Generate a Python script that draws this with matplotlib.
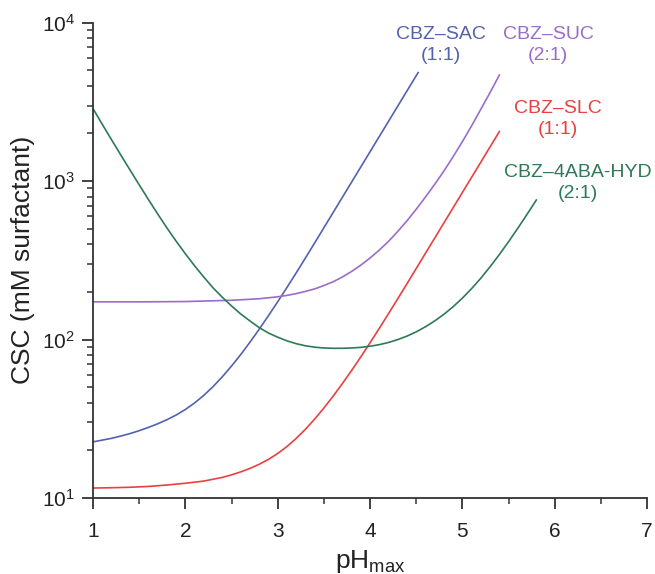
import matplotlib
matplotlib.use("Agg")
import matplotlib.pyplot as plt
import numpy as np
from matplotlib.ticker import LogLocator, MultipleLocator

plt.rcParams["font.family"] = ["Liberation Sans", "DejaVu Sans"]
plt.rcParams["mathtext.fontset"] = "custom"
plt.rcParams["mathtext.rm"] = "Liberation Sans"
plt.rcParams["mathtext.it"] = "Liberation Sans:italic"
plt.rcParams["mathtext.bf"] = "Liberation Sans:bold"

# CSC (mM surfactant) against pH_max for each cocrystal
ph_sac = [1.0, 1.1, 1.2, 1.3, 1.4, 1.5, 1.6, 1.7, 1.8, 1.9, 2.0, 2.1, 2.2, 2.3, 2.4,
          2.5, 2.6, 2.7, 2.8, 2.9, 3.0, 3.1, 3.2, 3.3, 3.4, 3.5, 3.6, 3.7, 3.8, 3.9,
          4.0, 4.1, 4.2, 4.3, 4.4, 4.5, 4.52]
csc_sac = [22.6, 23.2, 23.8, 24.6, 25.5, 26.6, 27.9, 29.4, 31.2, 33.4, 36.2, 39.8,
           44.5, 50.5, 58.2, 68.1, 80.5, 96.4, 116.4, 141.6, 173.4, 213.3, 263.6,
           327.3, 407.4, 508.2, 633.9, 790.7, 986.3, 1230, 1535, 1914, 2388, 2979,
           3715, 4634, 4842]

ph_suc = [1.0, 1.5, 2.0, 2.5, 2.8, 3.0, 3.1, 3.2, 3.3, 3.4, 3.5, 3.6, 3.7, 3.8, 3.9,
          4.0, 4.1, 4.2, 4.3, 4.4, 4.5, 4.6, 4.7, 4.8, 4.9, 5.0, 5.1, 5.2, 5.3, 5.4]
csc_suc = [173, 173, 173.8, 177, 181, 186.2, 190.1, 195.0, 201.4, 208.9, 219.3, 231.7,
           248.3, 269.2, 295.1, 327.3, 367.3, 416.9, 481.9, 562.3, 665.3, 794.3, 955,
           1161, 1429, 1778, 2239, 2851, 3631, 4677]

ph_slc = [1.0, 1.2, 1.4, 1.6, 1.8, 2.0, 2.2, 2.4, 2.5, 2.6, 2.7, 2.8, 2.9, 3.0, 3.1,
          3.2, 3.3, 3.4, 3.5, 3.6, 3.7, 3.8, 3.9, 4.0, 4.1, 4.2, 4.3, 4.4, 4.5, 4.6,
          4.7, 4.8, 4.9, 5.0, 5.1, 5.2, 5.3, 5.4]
csc_slc = [11.56, 11.61, 11.69, 11.83, 12.08, 12.39, 12.79, 13.49, 14.0, 14.62, 15.38,
           16.33, 17.54, 19.10, 21.13, 23.77, 27.16, 31.48, 36.98, 43.95, 52.72, 63.83,
           77.80, 95.50, 117.8, 145.9, 181.1, 225.4, 281.2, 350.8, 437.5, 545.8, 680.8,
           849.2, 1059, 1321, 1648, 2056]

ph_hyd = [1.0, 1.1, 1.2, 1.3, 1.4, 1.5, 1.6, 1.7, 1.8, 1.9, 2.0, 2.1, 2.2, 2.3, 2.4,
          2.5, 2.6, 2.7, 2.8, 2.9, 3.0, 3.1, 3.2, 3.3, 3.4, 3.5, 3.6, 3.7, 3.8, 3.9,
          4.0, 4.1, 4.2, 4.3, 4.4, 4.5, 4.6, 4.7, 4.8, 4.9, 5.0, 5.1, 5.2, 5.3, 5.4,
          5.5, 5.6, 5.7, 5.8]
csc_hyd = [2871, 2286, 1828, 1466, 1178, 948, 766, 621, 507, 418, 348, 292, 248, 212,
           185, 163, 145, 131, 119, 110, 103.5, 98.2, 94.2, 91.4, 89.5, 88.5, 88.1,
           88.1, 88.5, 89.3, 90.8, 92.9, 95.9, 100, 105.2, 111.9, 120.5, 131.2, 144.5,
           161.4, 182.8, 209.9, 244.3, 288.4, 344.4, 415, 505, 618, 760]

names = ["CBZ\u2013SAC\n(1:1)", "CBZ\u2013SUC\n(2:1)", "CBZ\u2013SLC\n(1:1)",
         "CBZ\u20134ABA-HYD\n(2:1)"]
colors = ["#5362ad", "#9a6dc9", "#e8413f", "#2e7a56"]

fig = plt.figure(figsize=(6.55, 5.74), dpi=100)
ax = fig.add_axes([0.142, 0.1324, 0.846, 0.828])

curves = [(ph_sac, csc_sac), (ph_suc, csc_suc), (ph_slc, csc_slc), (ph_hyd, csc_hyd)]
for (x, y), c in zip(curves, colors):
    ax.plot(x, y, color=c, lw=1.2)

# curve names placed just past the top end of each line
label_pos = [(4.77, 7200), (5.93, 7200), (6.03, 2460), (6.25, 970)]
for (lx, ly), name, c in zip(label_pos, names, colors):
    ax.text(lx, ly, name, color=c, fontsize=14, ha="center", va="center",
            linespacing=1.3, clip_on=False)

ax.set_yscale("log")
ax.set_xlim(1, 7)
ax.set_ylim(10, 1e4)
ax.xaxis.set_major_locator(MultipleLocator(1))
ax.xaxis.set_minor_locator(MultipleLocator(0.5))
ax.yaxis.set_major_locator(LogLocator(base=10))
ax.yaxis.set_minor_locator(LogLocator(base=10, subs=np.arange(2, 10)))

for s in ["top", "right"]:
    ax.spines[s].set_visible(False)
for s in ["left", "bottom"]:
    ax.spines[s].set_color("#333333")
    ax.spines[s].set_linewidth(1.3)

ax.tick_params(which="major", direction="out", length=8, width=1.3, color="#333333",
               labelsize=15, labelcolor="#222222")
ax.tick_params(which="minor", direction="out", length=4, width=1.1, color="#333333")
ax.tick_params(axis="x", which="major", pad=9)
ax.tick_params(axis="y", which="major", pad=5)

ax.set_xlabel("pH$_{\\mathrm{max}}$", fontsize=19, color="#222222", labelpad=5)
ax.set_ylabel("CSC (mM surfactant)", fontsize=19, color="#222222", labelpad=5)

fig.savefig("out.png", dpi=100)
